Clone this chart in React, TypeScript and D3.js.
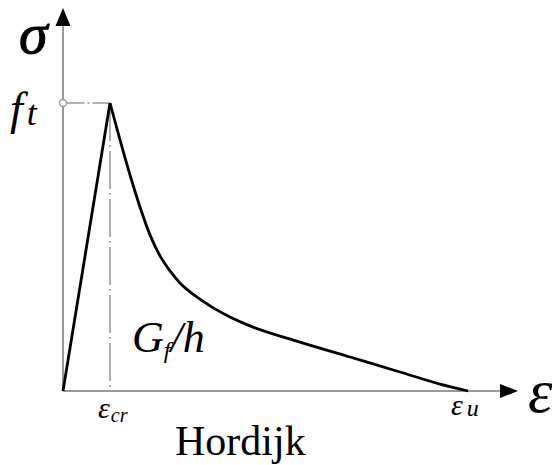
import React from "react";
import * as d3 from "d3";

// Hordijk tension softening law: normalised strain (ε / ε_cr) vs normalised stress (σ / f_t)
const strainPre = [0, 1.0];
const stressPre = [0, 1.0];

const strainPost = [1.0, 1.213, 1.426, 1.638, 1.851, 2.064, 2.277, 2.489, 2.702, 2.915, 3.234, 3.553, 3.979, 5.043, 6.106, 7.17, 8.021, 8.617];
const stressPost = [1.0, 0.872, 0.75, 0.639, 0.542, 0.469, 0.417, 0.375, 0.344, 0.319, 0.285, 0.257, 0.226, 0.17, 0.118, 0.066, 0.024, 0.0];

const epsCr = 1.0;
const epsU = 8.617;
const peakStress = 1.0;

const W = 552;
const H = 465;
const X0 = 63;
const Y0 = 391;

const SERIF = "Liberation Serif, Times New Roman, serif";
const AXIS = "#9a9a9a";

export default function App() {
  const x = d3.scaleLinear().domain([0, epsU]).range([X0, 468]);
  const y = d3.scaleLinear().domain([0, peakStress]).range([Y0, 103]);

  const pre = d3
    .line<number>()
    .x((_, i) => x(strainPre[i]))
    .y((_, i) => y(stressPre[i]))(strainPre);

  const post = d3
    .line<number>()
    .curve(d3.curveMonotoneX)
    .x((_, i) => x(strainPost[i]))
    .y((_, i) => y(stressPost[i]))(strainPost);

  const xAxisEnd = 500;
  const yAxisTop = 26;

  return (
    <svg
      width={W}
      height={H}
      style={{ position: "absolute", left: 0, top: 0, background: "#fff" }}
    >
      {/* axes */}
      <line x1={X0} y1={Y0} x2={xAxisEnd} y2={Y0} stroke={AXIS} strokeWidth={2} />
      <polygon points={`${xAxisEnd},${Y0 - 7} ${xAxisEnd + 18},${Y0} ${xAxisEnd},${Y0 + 7}`} fill="#000" />
      <line x1={X0} y1={Y0} x2={X0} y2={yAxisTop} stroke={AXIS} strokeWidth={2} />
      <polygon points={`${X0 - 7.5},${yAxisTop} ${X0},${8} ${X0 + 7.5},${yAxisTop}`} fill="#000" />

      {/* guide lines to the peak */}
      <line
        x1={X0 + 3.5}
        y1={y(peakStress)}
        x2={x(epsCr)}
        y2={y(peakStress)}
        stroke={AXIS}
        strokeWidth={1.6}
        strokeDasharray="18 3 2 3"
      />
      <line
        x1={x(epsCr)}
        y1={y(peakStress)}
        x2={x(epsCr)}
        y2={Y0}
        stroke={AXIS}
        strokeWidth={1.6}
        strokeDasharray="38 4 2 4"
      />
      <circle cx={X0} cy={y(peakStress)} r={3.5} fill="#fff" stroke={AXIS} strokeWidth={1.4} />

      {/* stress-strain curve */}
      <path d={pre ?? ""} fill="none" stroke="#000" strokeWidth={2.8} />
      <path d={post ?? ""} fill="none" stroke="#000" strokeWidth={2.8} />

      {/* labels */}
      <g fontFamily={SERIF} fill="#000">
        <text fontStyle="italic" x={19} y={53} fontSize={58} stroke="#000" strokeWidth={1}>σ</text>
        <text fontStyle="italic" x={10} y={124} fontSize={46}>
          f
          <tspan fontSize={36} dx={4} dy={1}>t</tspan>
        </text>
        <text fontStyle="italic" x={528} y={412} fontSize={62}>ε</text>
        <text fontStyle="italic" x={98} y={418} fontSize={30}>
          ε
          <tspan fontSize={20} dx={1} dy={4}>cr</tspan>
        </text>
        <text fontStyle="italic" x={451} y={415} fontSize={30}>
          ε
          <tspan fontSize={24} dx={4} dy={1}>u</tspan>
        </text>
        <text fontStyle="italic" x={132} y={352} fontSize={44}>
          G
          <tspan fontSize={24} dy={6}>f</tspan>
          <tspan dy={-6}>/h</tspan>
        </text>
        <text x={175} y={455} fontSize={42}>Hordijk</text>
      </g>
    </svg>
  );
}
